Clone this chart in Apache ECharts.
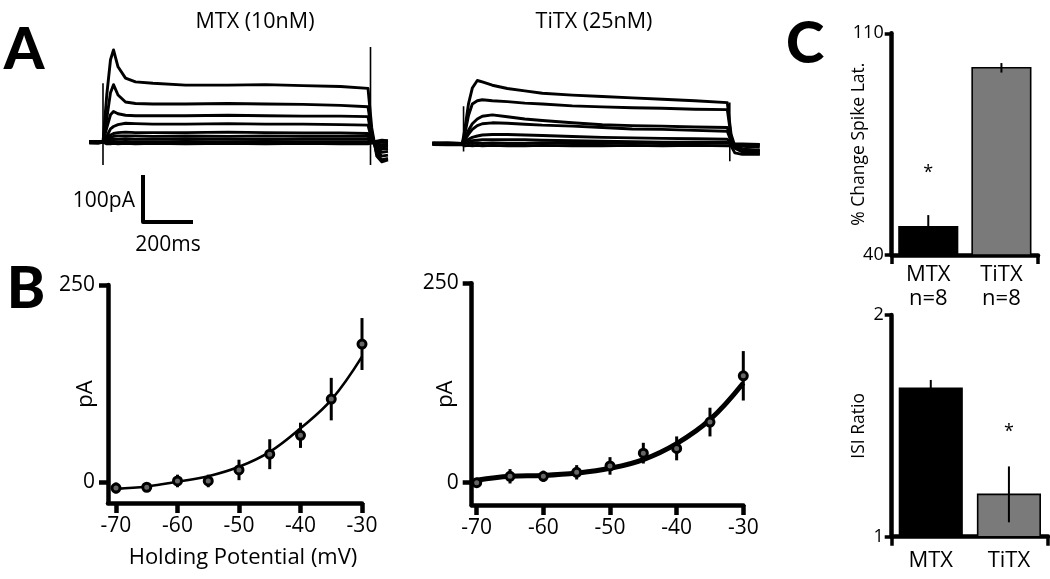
<!DOCTYPE html>
<html><head><meta charset="utf-8">
<script src="https://cdn.jsdelivr.net/npm/echarts@6/dist/echarts.min.js"></script>
<style>html,body{margin:0;padding:0;background:#fff}#c{width:1050px;height:579px}</style>
</head><body><div id="c"></div>
<script>
// ---------- Panel A: current traces (time in ms, current in pA) ----------
const mtxTime = [-55, -20, 0, 15, 30, 42, 60, 90, 130, 200, 330, 500, 650, 800, 950, 1060, 1075, 1095, 1115, 1140];
const mtxTrace1 = [1, -1, 0, 100, 175, 196, 160, 136, 128, 125, 121, 121, 122, 120, 118, 114, 30, -30, -42, -38];
const mtxTrace2 = [-1, 1, 0, 50, 105, 122, 100, 85, 82, 81, 81, 82, 81, 80, 78, 75, 20, -25, -38, -35];
const mtxTrace3 = [0, 0, 0, 30, 58, 65, 60, 57, 56, 56, 56, 57, 56, 55, 55, 54, 10, -18, -30, -28];
const mtxTrace4 = [1, 0, 0, 12, 28, 33, 37, 40, 39, 38, 38, 39, 38, 38, 37, 36, 5, -12, -22, -20];
const mtxTrace5 = [0, 1, 0, 8, 15, 18, 20, 21, 20, 20, 20, 21, 20, 19, 19, 18, 2, -8, -15, -14];
const mtxTrace6 = [-1, 0, 0, 5, 10, 12, 13, 13, 13, 12, 13, 12, 13, 12, 12, 12, 0, -5, -10, -9];
const mtxTrace7 = [1, -1, 0, 2, 5, 6, 6, 7, 6, 6, 7, 6, 6, 6, 6, 6, -2, -4, -6, -5];
const mtxTrace8 = [0, 1, 0, -1, 0, 1, 0, 1, 0, 0, 1, 0, 1, 0, 0, 0, 0, -1, 0, -1];
const mtxTrace9 = [-2, -3, 0, -4, -4, -3, -4, -3, -4, -3, -4, -3, -4, -3, -4, -4, -2, 2, 4, 3];
const mtxTransientTime = [0, 1070];
const mtxTransientHigh = [125, 202];
const mtxTransientLow = [-49, -49];

const titxTime = [-120, -60, 0, 10, 25, 40, 60, 80, 120, 180, 250, 320, 440, 560, 680, 800, 930, 1060, 1075, 1090, 1120, 1190];
const titxTrace1 = [0, 1, 0, 30, 85, 118, 134, 131, 124, 117, 112, 107, 103, 100, 97, 94, 91, 87, 20, -5, -12, -15];
const titxTrace2 = [1, 0, 0, 20, 60, 84, 91, 93, 91, 89, 86, 84, 80, 78, 76, 75, 73, 72, 15, -10, -18, -22];
const titxTrace3 = [0, -1, 0, 10, 28, 42, 52, 58, 61, 57, 52, 49, 44, 40, 38, 37, 35, 34, 8, -8, -16, -20];
const titxTrace4 = [-1, 0, 0, 8, 20, 30, 38, 42, 44, 43, 41, 39, 37, 34, 31, 30, 28, 26, 5, -6, -12, -16];
const titxTrace5 = [0, 1, 0, 4, 9, 13, 16, 18, 19, 19, 18, 17, 15, 13, 12, 11, 10, 9, 2, -4, -6, -8];
const titxTrace6 = [1, 0, 0, 2, 4, 6, 7, 8, 8, 8, 8, 7, 6, 5, 4, 3, 3, 2, 0, -2, -3, -3];
const titxTrace7 = [0, -1, 0, 0, 1, 0, 1, 0, 1, 0, 0, 1, 0, 0, 1, 0, 0, 1, 0, -1, -1, -2];
const titxTrace8 = [-2, -3, -3, -5, -4, -5, -4, -5, -4, -5, -5, -4, -5, -5, -4, -5, -4, -5, -5, -20, -23, -23];
const titxTransientTime = [5, 1070];
const titxTransientHigh = [79, 87];
const titxTransientLow = [-17, -38];

// scale bar: 100 pA / 200 ms
const scaleBarTime = [160, 160, 360];
const scaleBarCurrent = [-70, -170, -170];

// ---------- Panel B: I-V relations ----------
const holdingPotential = [-70, -65, -60, -55, -50, -45, -40, -35, -30];
const mtxCurrent = [-8, -7, 1, 1, 15, 35, 59, 105, 175];
const mtxCurrentErr = [7, 5, 8, 8, 13, 19, 16, 27, 33];
const mtxFit = [-9, -6, 0, 7, 19, 38, 68, 104, 159];
const titxCurrent = [0, 8, 8, 13, 21, 37, 43, 76, 134];
const titxCurrentErr = [2, 9, 7, 9, 11, 13, 15, 18, 31];
const titxFit = [3, 8, 9, 12, 18, 29, 49, 79, 125];
const ivVoltTicks = [-70, -60, -50, -40, -30];
const ivCurrentTicks = [0, 250];

// ---------- Panel C: bar charts ----------
const groups = ['MTX', 'TiTX'];
const groupN = ['n=8', 'n=8'];
const spikeLatChange = [48.9, 99.1];
const spikeLatErr = [3.7, 1.5];
const spikeLatTicks = [40, 110];
const isiRatio = [1.669, 1.191];
const isiRatioErr = [0.038, 0.126];
const isiTicks = [1, 2];
const spikeLatStar = [65.8, null];
const isiStar = [null, 1.474];

const FONT = "'Open Sans', 'DejaVu Sans', sans-serif";
const barColors = ['#000000', '#7a7a7a'];
const AXW = 4.5;

const chart = echarts.init(document.getElementById('c'), null, {renderer: 'canvas'});

function zipXY(xs, ys) { return xs.map((x, i) => [x, ys[i]]); }

function traceSeries(idx, times, vals, width) {
  return {
    type: 'line', xAxisIndex: idx, yAxisIndex: idx, data: zipXY(times, vals),
    showSymbol: false, silent: true, animation: false, clip: false,
    lineStyle: {color: '#000', width: width || 2.9, join: 'round'}
  };
}
function transientSeries(idx, times, hi, lo) {
  return times.map((t, i) => traceSeries(idx, [t, t], [lo[i], hi[i]], 1.6));
}
function errSeries(idx, xs, ys, errs, width) {
  return {
    type: 'custom', xAxisIndex: idx, yAxisIndex: idx, silent: true, animation: false,
    data: xs.map((x, i) => [x, ys[i], errs[i]]),
    renderItem: function (params, api) {
      const x = api.value(0), y = api.value(1), e = api.value(2);
      const p1 = api.coord([x, y - e]), p2 = api.coord([x, y + e]);
      return {type: 'line', shape: {x1: p1[0], y1: p1[1], x2: p2[0], y2: p2[1]},
        style: {stroke: '#000', lineWidth: width}};
    }, z: 5
  };
}
function barSeries(idx, vals, base) {
  return {
    type: 'custom', xAxisIndex: idx, yAxisIndex: idx, silent: true, animation: false,
    data: vals.map((v, i) => [i + 0.5, v, i]),
    renderItem: function (params, api) {
      const x = api.value(0), v = api.value(1), k = api.value(2);
      const pA = api.coord([x - 0.4, v]), pB = api.coord([x + 0.4, base]);
      return {type: 'rect', shape: {x: pA[0], y: pA[1], width: pB[0] - pA[0], height: pB[1] - pA[1]},
        style: {fill: barColors[k], stroke: '#000', lineWidth: 1.6}};
    }, z: 2
  };
}
function starSeries(idx, vals) {
  return {
    type: 'custom', xAxisIndex: idx, yAxisIndex: idx, silent: true, animation: false,
    data: vals.map((v, i) => v == null ? null : [i + 0.5, v]).filter(d => d),
    renderItem: function (params, api) {
      const p = api.coord([api.value(0), api.value(1)]);
      return {type: 'text', x: p[0], y: p[1],
        style: {text: '*', font: '18px ' + FONT, fill: '#000', align: 'center', verticalAlign: 'middle'}};
    }, z: 5
  };
}

const hidden = {show: false};
function tick(values, len, width) {
  return {show: true, customValues: values, length: len, lineStyle: {color: '#000', width: width}};
}
function hiddenAxis(idx, min, max) {
  return {type: 'value', gridIndex: idx, min: min, max: max, show: false, splitLine: hidden};
}
function ivXAxis(idx, min) {
  return {type: 'value', gridIndex: idx, min: min, max: -30,
    axisLine: {show: true, onZero: false, lineStyle: {color: '#000', width: AXW}},
    axisTick: tick(ivVoltTicks, 10, 4.5),
    axisLabel: {customValues: ivVoltTicks, color: '#000', fontFamily: FONT, fontSize: 21, margin: 13},
    splitLine: hidden};
}
function ivYAxis(idx, min, gap) {
  return {type: 'value', gridIndex: idx, min: min, max: 250, name: 'pA', nameLocation: 'middle', nameGap: gap,
    nameMoveOverlap: false,
    nameRotate: 90, nameTextStyle: {color: '#000', fontFamily: FONT, fontSize: 22},
    axisLine: {show: true, onZero: false, lineStyle: {color: '#000', width: AXW}},
    axisTick: tick(ivCurrentTicks, 9, 4.5),
    axisLabel: {customValues: ivCurrentTicks, color: '#000', fontFamily: FONT, fontSize: 21, margin: 13},
    splitLine: hidden};
}
function barXAxis(idx, margin) {
  return {type: 'value', gridIndex: idx, min: 0, max: 2,
    axisLine: {show: true, onZero: false, lineStyle: {color: '#000', width: AXW}},
    axisTick: tick([0, 2], 9, 3.5),
    axisLabel: {customValues: [0.5, 1.5], color: '#000', fontFamily: FONT, fontSize: 22, margin: margin, lineHeight: 24,
      formatter: function (v) { const i = Math.round(v - 0.5); return idx === 4 ? groups[i] + '\n' + groupN[i] : groups[i]; }},
    splitLine: hidden};
}
function barYAxis(idx, min, max, ticks, name, fs) {
  return {type: 'value', gridIndex: idx, min: min, max: max, name: name, nameLocation: 'middle', nameGap: 24,
    nameMoveOverlap: false,
    nameRotate: 90, nameTextStyle: {color: '#000', fontFamily: FONT, fontSize: fs},
    axisLine: {show: true, onZero: false, lineStyle: {color: '#000', width: AXW}},
    axisTick: tick(ticks, 7, 3.5),
    axisLabel: {customValues: ticks, color: '#000', fontFamily: FONT, fontSize: 18, margin: 8},
    splitLine: hidden};
}

const mtxTraces = [mtxTrace1, mtxTrace2, mtxTrace3, mtxTrace4, mtxTrace5, mtxTrace6, mtxTrace7, mtxTrace8, mtxTrace9];
const titxTraces = [titxTrace1, titxTrace2, titxTrace3, titxTrace4, titxTrace5, titxTrace6, titxTrace7, titxTrace8];

const series = [];
mtxTraces.forEach(tr => series.push(traceSeries(0, mtxTime, tr)));
transientSeries(0, mtxTransientTime, mtxTransientHigh, mtxTransientLow).forEach(s => series.push(s));
series.push(traceSeries(0, scaleBarTime, scaleBarCurrent, 4));
titxTraces.forEach(tr => series.push(traceSeries(1, titxTime, tr)));
transientSeries(1, titxTransientTime, titxTransientHigh, titxTransientLow).forEach(s => series.push(s));

// Panel B
[[2, mtxFit, mtxCurrent, mtxCurrentErr, 2.6], [3, titxFit, titxCurrent, titxCurrentErr, 5]].forEach(cfg => {
  const [idx, fit, cur, err, fw] = cfg;
  series.push({type: 'line', xAxisIndex: idx, yAxisIndex: idx, data: zipXY(holdingPotential, fit), smooth: 0.4,
    showSymbol: false, silent: true, animation: false, lineStyle: {color: '#000', width: fw}, z: 3});
  series.push(errSeries(idx, holdingPotential, cur, err, 3));
  series.push({type: 'scatter', xAxisIndex: idx, yAxisIndex: idx, data: zipXY(holdingPotential, cur),
    symbol: 'circle', symbolSize: 8, silent: true, animation: false,
    itemStyle: {color: '#666', borderColor: '#000', borderWidth: 3, opacity: 1}, z: 6});
});

// Panel C
series.push(barSeries(4, spikeLatChange, spikeLatTicks[0]));
series.push(errSeries(4, [0.5, 1.5], spikeLatChange, spikeLatErr, 2));
series.push(starSeries(4, spikeLatStar));
series.push(barSeries(5, isiRatio, isiTicks[0]));
series.push(errSeries(5, [0.5, 1.5], isiRatio, isiRatioErr, 2));
series.push(starSeries(5, isiStar));

function txt(x, y, s, font, align) {
  return {type: 'text', x: x, y: y, silent: true,
    style: {text: s, font: font, fill: '#000', align: align || 'center', verticalAlign: 'middle'}};
}

chart.setOption({
  animation: false,
  backgroundColor: '#fff',
  grid: [
    {left: 88, top: 43.3, width: 301.25, height: 183.3},
    {left: 431.05, top: 44.8, width: 330, height: 126.9},
    {left: 108, top: 285, width: 254, height: 218},
    {left: 471.7, top: 283.3, width: 271.6, height: 221.7},
    {left: 891.7, top: 33.3, width: 146.3, height: 221.7},
    {left: 891.7, top: 315, width: 156.3, height: 221.7}
  ],
  xAxis: [hiddenAxis(0, -60, 1145), hiddenAxis(1, -125, 1195), ivXAxis(2, -71.3), ivXAxis(3, -70.75), barXAxis(4, 8), barXAxis(5, 12)],
  yAxis: [hiddenAxis(0, -180, 210), hiddenAxis(1, -60, 210), ivYAxis(2, -27, 11), ivYAxis(3, -28, 15),
    barYAxis(4, 40, 110, spikeLatTicks, '% Change Spike Lat.', 17.5),
    barYAxis(5, 1, 2, isiTicks, 'ISI Ratio', 17.5)],
  series: series,
  graphic: [
    txt(24, 50, 'A', "900 58px Lato, 'DejaVu Sans', sans-serif"),
    txt(26, 289, 'B', "900 58px Lato, 'DejaVu Sans', sans-serif"),
    txt(805, 44, 'C', "900 58px Lato, 'DejaVu Sans', sans-serif"),
    txt(255, 22, 'MTX (10nM)', "21.5px " + FONT),
    txt(594, 22, 'TiTX (25nM)', "21.5px " + FONT),
    txt(135, 201, '100pA', "21px " + FONT, 'right'),
    txt(168, 245, '200ms', "21px " + FONT),
    txt(243, 558, 'Holding Potential (mV)', "22px " + FONT)
  ]
});
</script></body></html>
